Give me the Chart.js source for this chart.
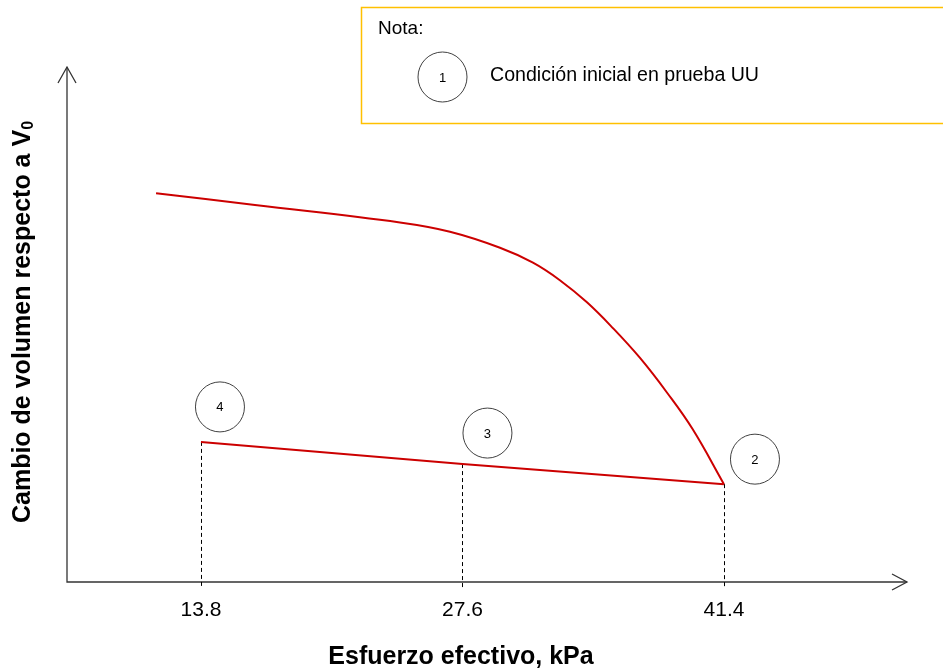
<!DOCTYPE html>
<html lang="es">
<head>
<meta charset="UTF-8">
<title>Cambio de volumen vs esfuerzo efectivo</title>
<script src="https://cdn.jsdelivr.net/npm/chart.js"></script>
<style>
	html, body { margin: 0; padding: 0; background: #fff; }
</style>
</head>
<body>
<canvas id="grafico" width="943" height="671"></canvas>

<script>
	// curva de la prueba (condicion inicial -> punto 2)
	const curvaX = [11.43, 16.65, 24.3, 26.94, 29.58, 31.32, 32.74, 34.17, 35.54, 36.97, 38.39, 39.76, 41.4];
	const curvaY = [7.55, 7.32, 6.98, 6.80, 6.49, 6.20, 5.86, 5.43, 4.93, 4.35, 3.68, 2.96, 1.90];

	// descarga: puntos 2 -> 3 -> 4
	const trayX = [13.8, 27.6, 41.4];
	const trayY = [2.72, 2.29, 1.90];
	const trayEtiquetas = ["4", "3", "2"];

	const ticksX = [13.8, 27.6, 41.4];

	const tituloX = "Esfuerzo efectivo, kPa";
	const tituloY = "Cambio de volumen respecto a V";
	const tituloYSub = "0";
	const notaTitulo = "Nota:";
	const notaNumero = "1";
	const notaTexto = "Condición inicial en prueba UU";

	const ROJO = "#cc0000";
	const FUENTE = "'Liberation Sans', Arial, sans-serif";

	function circulo(ctx, cx, cy, txt) {
		ctx.save();
		ctx.beginPath();
		ctx.ellipse(cx, cy, 24.5, 25, 0, 0, Math.PI * 2);
		ctx.fillStyle = "#fff";
		ctx.fill();
		ctx.strokeStyle = "#404040";
		ctx.lineWidth = 1;
		ctx.stroke();
		ctx.fillStyle = "#000";
		ctx.font = "13px " + FUENTE;
		ctx.textAlign = "center";
		ctx.textBaseline = "middle";
		ctx.fillText(txt, cx, cy + 1);
		ctx.restore();
	}

	const dibujo = {
		id: "dibujo",
		beforeDatasetsDraw(chart) {
			const ctx = chart.ctx;
			const a = chart.chartArea;
			const sx = chart.scales.x, sy = chart.scales.y;
			ctx.save();
			// ejes con flecha
			ctx.strokeStyle = "#333";
			ctx.lineWidth = 1.3;
			ctx.beginPath();
			ctx.moveTo(a.left, a.top);
			ctx.lineTo(a.left, a.bottom);
			ctx.lineTo(a.right, a.bottom);
			ctx.stroke();
			ctx.beginPath();
			ctx.moveTo(a.right - 15, a.bottom - 8);
			ctx.lineTo(a.right, a.bottom);
			ctx.lineTo(a.right - 15, a.bottom + 8);
			ctx.moveTo(a.left - 9, a.top + 16);
			ctx.lineTo(a.left, a.top);
			ctx.lineTo(a.left + 9, a.top + 16);
			ctx.stroke();
			// lineas punteadas
			ctx.strokeStyle = "#000";
			ctx.lineWidth = 1;
			ctx.setLineDash([4, 3]);
			trayX.forEach((x, i) => {
				const px = Math.round(sx.getPixelForValue(x)) + 0.5;
				ctx.beginPath();
				ctx.moveTo(px, sy.getPixelForValue(trayY[i]));
				ctx.lineTo(px, a.bottom + 6);
				ctx.stroke();
			});
			ctx.restore();
		},
		afterDraw(chart) {
			const ctx = chart.ctx;
			const sx = chart.scales.x, sy = chart.scales.y;
			const desplaz = [[19, -35], [25, -31], [31, -25]];
			trayX.forEach((x, i) => {
				circulo(ctx, sx.getPixelForValue(x) + desplaz[i][0],
					sy.getPixelForValue(trayY[i]) + desplaz[i][1], trayEtiquetas[i]);
			});

			// recuadro de nota
			ctx.save();
			ctx.strokeStyle = "#ffc000";
			ctx.lineWidth = 1.5;
			ctx.strokeRect(361.5, 7.5, 620, 116);
			ctx.fillStyle = "#000";
			ctx.font = "19px " + FUENTE;
			ctx.textBaseline = "middle";
			ctx.fillText(notaTitulo, 378, 29);
			ctx.font = "19.6px " + FUENTE;
			ctx.fillText(notaTexto, 490, 76);
			ctx.restore();
			circulo(ctx, 442.5, 77, notaNumero);

			// titulo eje X
			ctx.save();
			ctx.fillStyle = "#000";
			ctx.font = "bold 25px " + FUENTE;
			ctx.textAlign = "center";
			ctx.textBaseline = "middle";
			ctx.fillText(tituloX, 461, 657);
			ctx.restore();

			// titulo eje Y con subindice
			ctx.save();
			ctx.translate(23, 322);
			ctx.rotate(-Math.PI / 2);
			ctx.fillStyle = "#000";
			ctx.textBaseline = "middle";
			ctx.font = "bold 25px " + FUENTE;
			const w1 = ctx.measureText(tituloY).width;
			ctx.font = "bold 16px " + FUENTE;
			const w2 = ctx.measureText(tituloYSub).width;
			const x0 = -(w1 + w2) / 2;
			ctx.font = "bold 25px " + FUENTE;
			ctx.fillText(tituloY, x0, 0);
			ctx.font = "bold 16px " + FUENTE;
			ctx.fillText(tituloYSub, x0 + w1, 6);
			ctx.restore();
		}
	};

	const cfg = {
		type: "line",
		data: {
			datasets: [
				{
					data: curvaX.map((x, i) => ({ x: x, y: curvaY[i] })),
					borderColor: ROJO,
					borderWidth: 2,
					pointRadius: 0,
					tension: 0.4,
					fill: false
				},
				{
					data: trayX.map((x, i) => ({ x: x, y: trayY[i] })),
					borderColor: ROJO,
					borderWidth: 2,
					pointRadius: 0,
					tension: 0,
					fill: false
				}
			]
		},
		options: {
			responsive: false,
			animation: false,
			devicePixelRatio: 1,
			layout: { padding: { top: 67, right: 36, left: 0, bottom: 0 } },
			plugins: {
				legend: { display: false },
				tooltip: { enabled: false },
				title: { display: false }
			},
			scales: {
				x: {
					type: "linear",
					min: 6.73,
					max: 51.06,
					afterBuildTicks: (s) => { s.ticks = ticksX.map(v => ({ value: v })); },
					afterFit: (s) => { s.height = 89; },
					grid: { display: false, drawTicks: false },
					border: { display: false },
					ticks: {
						padding: 16,
						color: "#000",
						font: { family: FUENTE, size: 21 },
						callback: (v) => v.toFixed(1)
					}
				},
				y: {
					type: "linear",
					min: 0,
					max: 10,
					afterFit: (s) => { s.width = 67; },
					grid: { display: false, drawTicks: false },
					border: { display: false },
					ticks: { display: false }
				}
			}
		},
		plugins: [dibujo]
	};

	const grafico = new Chart(document.getElementById("grafico"), cfg);
</script>
</body>
</html>
